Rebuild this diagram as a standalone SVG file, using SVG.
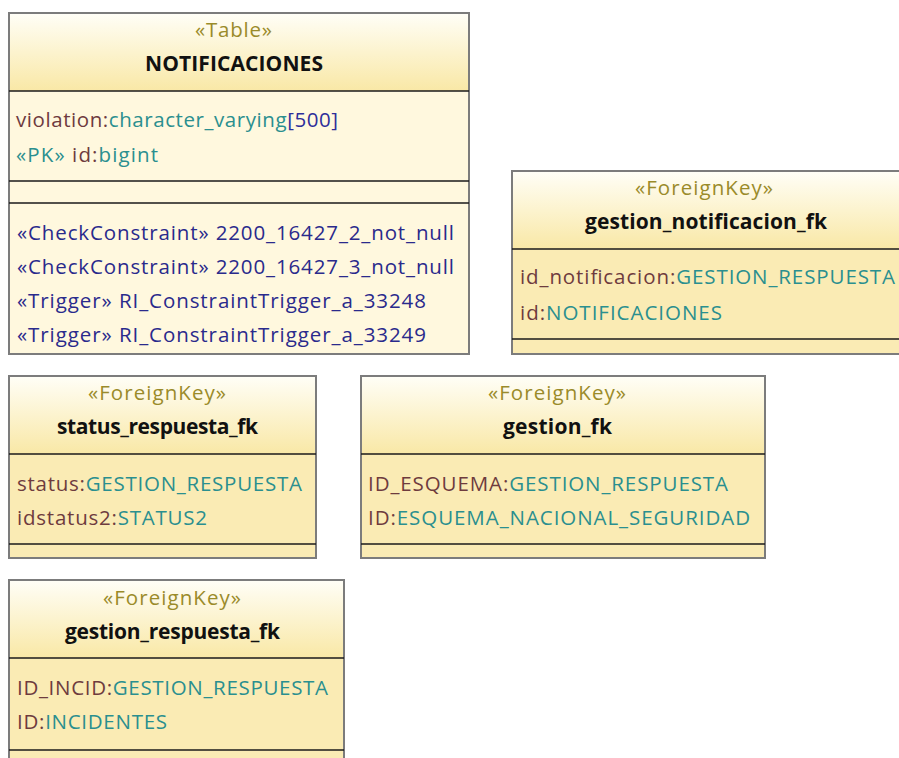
<svg xmlns="http://www.w3.org/2000/svg" width="899" height="758" viewBox="0 0 899 758">
<defs>
<linearGradient id="hdr" x1="0" y1="0" x2="0" y2="1">
<stop offset="0" stop-color="#FFFEF6"/>
<stop offset="1" stop-color="#F9E8A6"/>
</linearGradient>
<style>
.box{stroke:#7C7C7C;stroke-width:2}
.tb{fill:#FFF8DE}
.fk{fill:#FAEBB4}
.sep{stroke:#1A1A1A;stroke-width:1.6}
text{font-family:"Open Sans","Noto Sans","DejaVu Sans",sans-serif;font-size:20.5px}
.st{fill:#9A8B2A;text-anchor:middle}
.nm{fill:#111;font-weight:bold;text-anchor:middle;font-size:21px}
.an{fill:#6E3B3E}
.ty{fill:#2A8F8F}
.nb{fill:#2E2E9A}
.op{fill:#2A2A8C}
</style>
</defs>
<rect width="899" height="758" fill="#FFFFFF"/>
<g id="connectors"></g>
<g id="NOTIFICACIONES">
<rect class="box tb" x="9" y="13" width="460" height="341"/>
<rect x="10" y="14" width="458" height="77" fill="url(#hdr)"/>
<line class="sep" x1="9" y1="91" x2="469" y2="91"/>
<line class="sep" x1="9" y1="181" x2="469" y2="181"/>
<line class="sep" x1="9" y1="203" x2="469" y2="203"/>
<text class="st" x="233.5" y="37" textLength="77">«Table»</text>
<text class="nm" x="234" y="71" textLength="178">NOTIFICACIONES</text>
<text x="16" y="127" textLength="322"><tspan class="an">violation:</tspan><tspan class="ty">character_varying</tspan><tspan class="nb">[500]</tspan></text>
<text x="16" y="162" textLength="142"><tspan class="ty">«PK»</tspan><tspan class="an"> id:</tspan><tspan class="ty">bigint</tspan></text>
<text class="op" x="17" y="240" textLength="437">«CheckConstraint» 2200_16427_2_not_null</text>
<text class="op" x="17" y="274" textLength="437">«CheckConstraint» 2200_16427_3_not_null</text>
<text class="op" x="17" y="308" textLength="409">«Trigger» RI_ConstraintTrigger_a_33248</text>
<text class="op" x="17" y="342" textLength="409">«Trigger» RI_ConstraintTrigger_a_33249</text>
</g>
<g id="gestion_notificacion_fk">
<rect class="box fk" x="512" y="171" width="400" height="183"/>
<rect x="513" y="172" width="398" height="77" fill="url(#hdr)"/>
<line class="sep" x1="512" y1="249" x2="912" y2="249"/>
<line class="sep" x1="512" y1="339" x2="912" y2="339"/>
<text class="st" x="704" y="195" textLength="138">«ForeignKey»</text>
<text class="nm" x="706" y="229" textLength="242">gestion_notificacion_fk</text>
<text x="520" y="284" textLength="375"><tspan class="an">id_notificacion:</tspan><tspan class="ty">GESTION_RESPUESTA</tspan></text>
<text x="520" y="320" textLength="202"><tspan class="an">id:</tspan><tspan class="ty">NOTIFICACIONES</tspan></text>
</g>
<g id="status_respuesta_fk">
<rect class="box fk" x="9" y="376" width="307" height="182"/>
<rect x="10" y="377" width="305" height="77" fill="url(#hdr)"/>
<line class="sep" x1="9" y1="454" x2="316" y2="454"/>
<line class="sep" x1="9" y1="544" x2="316" y2="544"/>
<text class="st" x="157" y="400" textLength="138">«ForeignKey»</text>
<text class="nm" x="157.5" y="434" textLength="201">status_respuesta_fk</text>
<text x="17" y="491" textLength="285"><tspan class="an">status:</tspan><tspan class="ty">GESTION_RESPUESTA</tspan></text>
<text x="17" y="525" textLength="190"><tspan class="an">idstatus2:</tspan><tspan class="ty">STATUS2</tspan></text>
</g>
<g id="gestion_fk">
<rect class="box fk" x="361" y="376" width="404" height="182"/>
<rect x="362" y="377" width="402" height="77" fill="url(#hdr)"/>
<line class="sep" x1="361" y1="454" x2="765" y2="454"/>
<line class="sep" x1="361" y1="544" x2="765" y2="544"/>
<text class="st" x="557" y="400" textLength="138">«ForeignKey»</text>
<text class="nm" x="557.5" y="434" textLength="109">gestion_fk</text>
<text x="368" y="491" textLength="360"><tspan class="an">ID_ESQUEMA:</tspan><tspan class="ty">GESTION_RESPUESTA</tspan></text>
<text x="368" y="525" textLength="382"><tspan class="an">ID:</tspan><tspan class="ty">ESQUEMA_NACIONAL_SEGURIDAD</tspan></text>
</g>
<g id="gestion_respuesta_fk">
<rect class="box fk" x="9" y="580" width="335" height="200"/>
<rect x="10" y="581" width="333" height="77" fill="url(#hdr)"/>
<line class="sep" x1="9" y1="658" x2="344" y2="658"/>
<line class="sep" x1="9" y1="750" x2="344" y2="750"/>
<text class="st" x="172" y="605" textLength="138">«ForeignKey»</text>
<text class="nm" x="172.5" y="639" textLength="215">gestion_respuesta_fk</text>
<text x="17" y="695" textLength="311"><tspan class="an">ID_INCID:</tspan><tspan class="ty">GESTION_RESPUESTA</tspan></text>
<text x="17" y="729" textLength="150"><tspan class="an">ID:</tspan><tspan class="ty">INCIDENTES</tspan></text>
</g>
</svg>
